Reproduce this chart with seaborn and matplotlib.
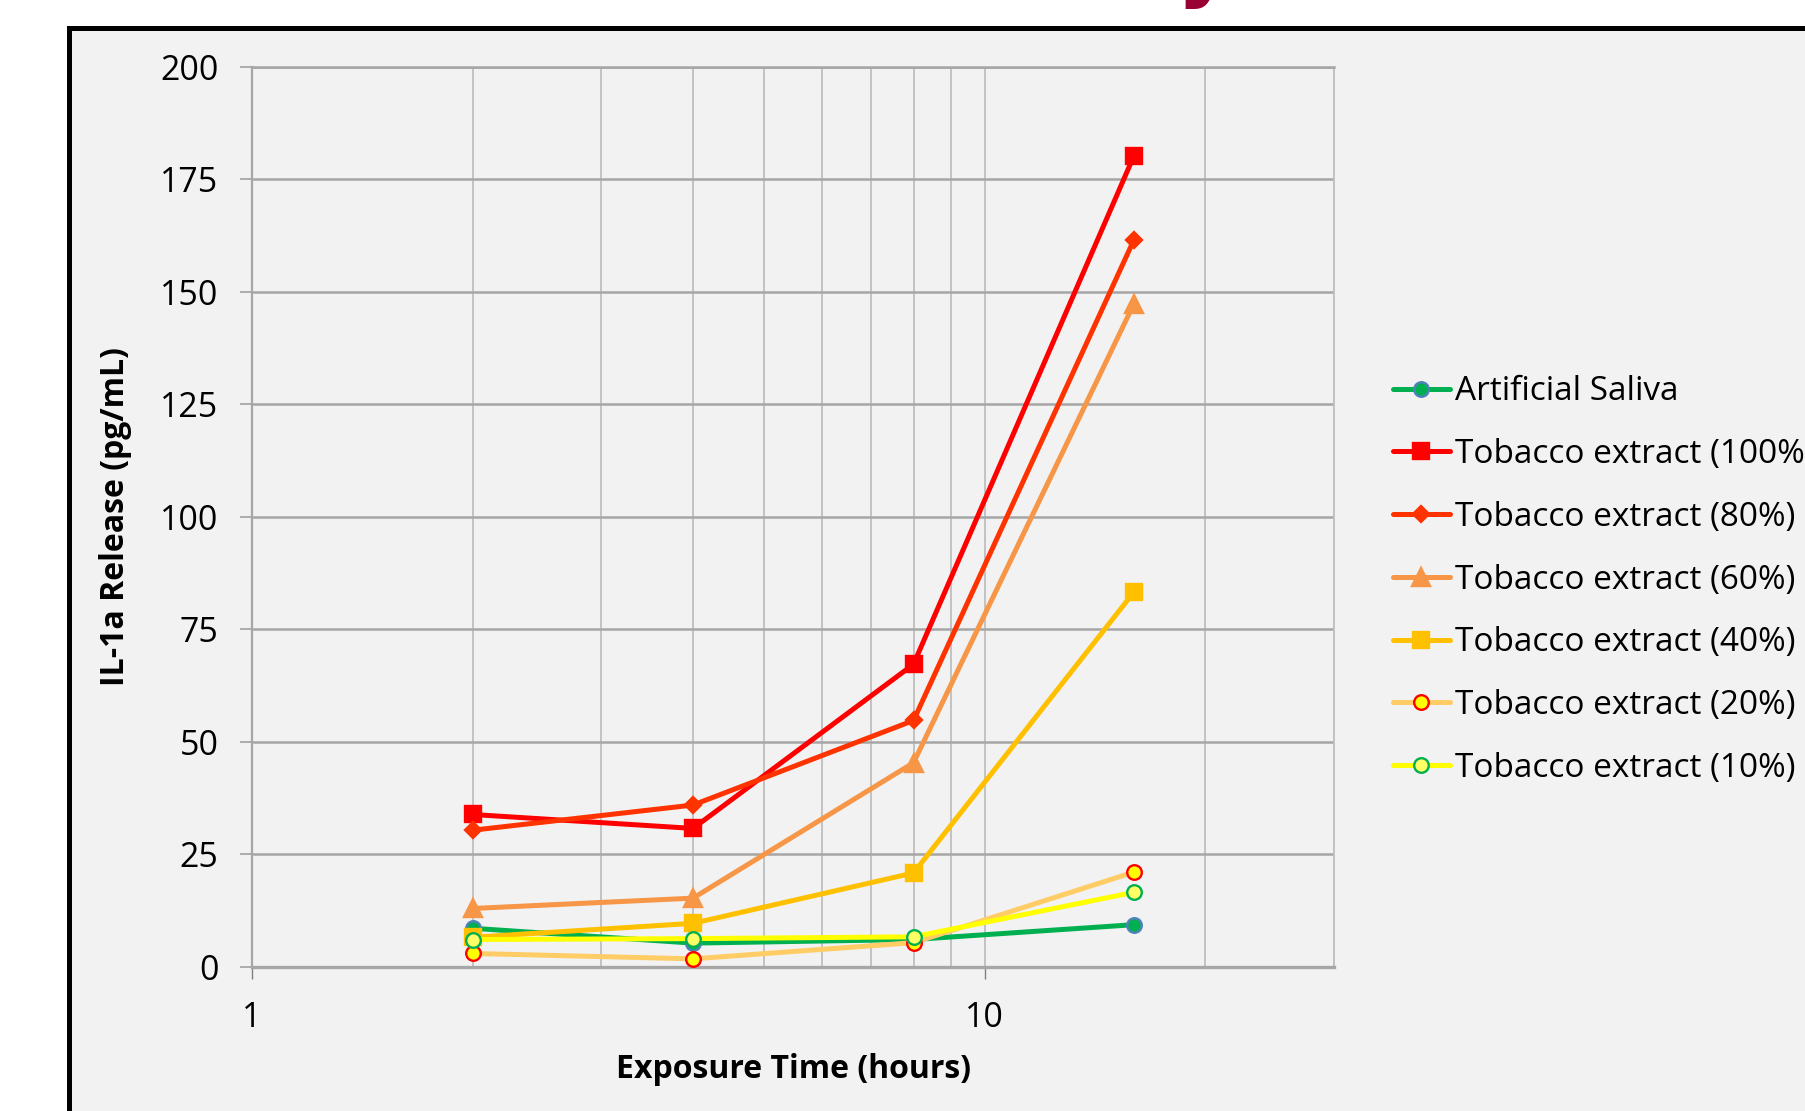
import matplotlib
matplotlib.use("Agg")
import matplotlib.pyplot as plt
import numpy as np
import pandas as pd
import seaborn as sns
from matplotlib.patches import Rectangle
from matplotlib.ticker import FixedLocator, FixedFormatter, LogLocator, NullFormatter

# Exposure times (hours) and IL-1a release (pg/mL) per treatment
hours = [2, 4, 8, 16]
saliva = [8.5, 5.2, 6.0, 9.3]
tob100 = [33.8, 30.7, 67.2, 180.3]
tob80 = [30.3, 35.9, 54.7, 161.6]
tob60 = [12.9, 15.2, 45.3, 147.4]
tob40 = [6.5, 9.6, 20.8, 83.3]
tob20 = [2.9, 1.7, 5.3, 21.0]
tob10 = [6.0, 6.2, 6.6, 16.5]

series_names = [
    "Artificial Saliva",
    "Tobacco extract (100%)",
    "Tobacco extract (80%)",
    "Tobacco extract (60%)",
    "Tobacco extract (40%)",
    "Tobacco extract (20%)",
    "Tobacco extract (10%)",
]
series_values = [saliva, tob100, tob80, tob60, tob40, tob20, tob10]

y_ticks = [0, 25, 50, 75, 100, 125, 150, 175, 200]
x_major = [1, 10]
x_major_labels = ["1", "10"]

# line colour, marker, marker face, marker edge, marker size
styles = [
    ("#00B050", "o", "#00B050", "#4F81BD", 10.5),
    ("#FF0000", "s", "#FF0000", "#FF0000", 11.5),
    ("#FF3300", "D", "#FF3300", "#FF3300", 8.5),
    ("#F79646", "^", "#F79646", "#F79646", 13),
    ("#FFC000", "s", "#FFC000", "#FFC000", 11.5),
    ("#FFCC66", "o", "#FFFF00", "#FF0000", 10.5),
    ("#FFFF00", "o", "#FFFF66", "#00B050", 10.5),
]

df = pd.DataFrame(
    {
        "hours": np.tile(hours, len(series_names)),
        "release": np.concatenate(series_values),
        "series": np.repeat(series_names, len(hours)),
    }
)

sns.set_style("white")
plt.rcParams["font.family"] = ["Open Sans", "DejaVu Sans"]
plt.rcParams["text.color"] = "black"
plt.rcParams["axes.labelcolor"] = "black"

W, H = 1805, 1111
fig = plt.figure(figsize=(W / 100, H / 100), dpi=100, facecolor="white")

# grey panel with a heavy black frame, cut by the image edges
fig.add_artist(
    Rectangle(
        (68.5 / W, -0.05), 1.2, 1 - 27.5 / H + 0.05,
        transform=fig.transFigure, facecolor="#F2F2F2",
        edgecolor="black", linewidth=3.6, zorder=0,
    )
)
# tail of a heading sitting above the frame
fig.text(1177 / W, 1 + 9 / H, "y", fontsize=62, fontweight="bold",
         color="#990033", ha="left", va="baseline", family="DejaVu Sans")

left, right, top, bottom = 252, 1334, 67, 966.5
ax = fig.add_axes([left / W, 1 - bottom / H, (right - left) / W, (bottom - top) / H])
ax.set_facecolor("#F2F2F2")

for name, (lc, mk, mf, me, ms) in zip(series_names, styles):
    sub = df[df["series"] == name]
    sns.lineplot(
        data=sub, x="hours", y="release", ax=ax, color=lc, linewidth=3.6,
        marker=mk, markersize=ms, markerfacecolor=mf, markeredgecolor=me,
        markeredgewidth=1.7, label=name, zorder=3, estimator=None,
    )

ax.set_xscale("log")
ax.set_xlim(1, 30)
ax.set_ylim(0, 200)
ax.xaxis.set_major_locator(FixedLocator(x_major))
ax.xaxis.set_major_formatter(FixedFormatter(x_major_labels))
ax.xaxis.set_minor_locator(LogLocator(base=10, subs=np.arange(2, 10)))
ax.xaxis.set_minor_formatter(NullFormatter())
ax.set_yticks(y_ticks)

ax.grid(True, which="both", axis="x", color="#BFBFBF", linewidth=1.3, zorder=1)
ax.grid(True, which="major", axis="y", color="#A6A6A6", linewidth=1.8, zorder=1)
ax.set_axisbelow(True)

for side in ["top", "right"]:
    ax.spines[side].set_visible(True)
ax.spines["top"].set_color("#A6A6A6")
ax.spines["top"].set_linewidth(1.8)
ax.spines["right"].set_color("#BFBFBF")
ax.spines["right"].set_linewidth(1.3)
ax.spines["left"].set_color("#A6A6A6")
ax.spines["left"].set_linewidth(1.6)
ax.spines["bottom"].set_color("#A6A6A6")
ax.spines["bottom"].set_linewidth(2.4)

ax.tick_params(axis="y", which="major", length=9, width=1.3, color="#A6A6A6",
               labelsize=24.5, pad=15, labelcolor="black", left=True)
ax.tick_params(axis="x", which="major", length=8.5, width=1.0, color="#808080",
               labelsize=24.5, pad=16, labelcolor="black", bottom=True)
ax.tick_params(axis="x", which="minor", length=0)

ax.set_xlabel("Exposure Time (hours)", fontsize=23, fontweight="bold")
ax.set_ylabel("IL-1a Release (pg/mL)", fontsize=23, fontweight="bold")
ax.xaxis.set_label_coords(0.5, (bottom - 1070) / (bottom - top))
ax.xaxis.label.set_va("center")
ax.yaxis.set_label_coords((115 - left) / (right - left), 0.5)
ax.yaxis.label.set_va("center")
ax.yaxis.label.set_ha("center")

leg = ax.legend(
    loc="center left", bbox_to_anchor=(1393 / W, 1 - 580 / H),
    bbox_transform=fig.transFigure, frameon=False, fontsize=24,
    borderpad=0, borderaxespad=0, handlelength=1.7, handletextpad=0.15,
    labelspacing=0.89,
)
for t in leg.get_texts():
    t.set_color("black")

fig.savefig("out.png", dpi=100, facecolor="white")
